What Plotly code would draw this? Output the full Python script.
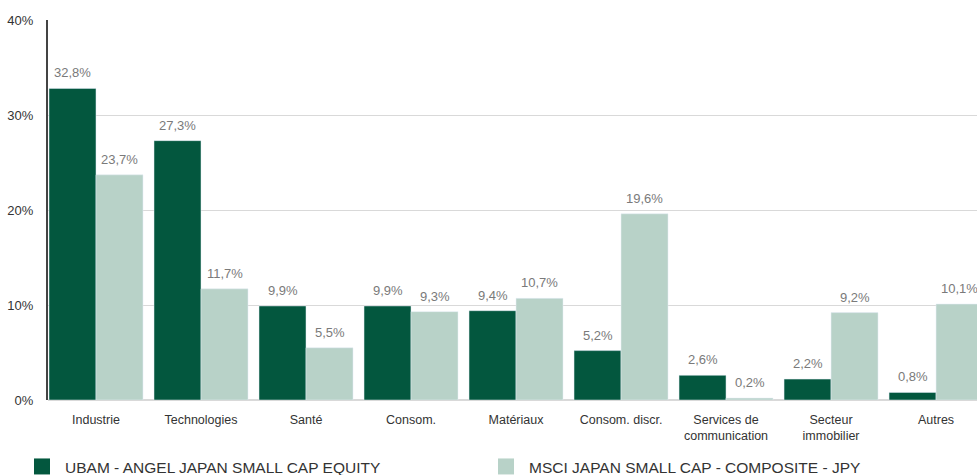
import plotly.graph_objects as go

categories = ["Industrie", "Technologies", "Santé", "Consom.", "Matériaux",
              "Consom. discr.", "Services de<br>communication", "Secteur<br>immobilier", "Autres"]
fund_name = "UBAM - ANGEL JAPAN SMALL CAP EQUITY"
bench_name = "MSCI JAPAN SMALL CAP - COMPOSITE - JPY"
fund_values = [32.8, 27.3, 9.9, 9.9, 9.4, 5.2, 2.6, 2.2, 0.8]
bench_values = [23.7, 11.7, 5.5, 9.3, 10.7, 19.6, 0.2, 9.2, 10.1]
y_ticks = [0, 10, 20, 30, 40]
y_tick_text = ["0%", "10%", "20%", "30%", "40%"]

dark = "#03573E"
light = "#B8D2C8"
font = "Liberation Sans"

fig = go.Figure()
fig.add_trace(go.Bar(x=categories, y=fund_values, name=fund_name, marker_color=dark,
                     showlegend=False))
fig.add_trace(go.Bar(x=categories, y=bench_values, name=bench_name, marker_color=light,
                     showlegend=False))
# legend entries
for nm, col in [(fund_name, dark), (bench_name, light)]:
    fig.add_trace(go.Scatter(x=[None], y=[None], mode="markers", name=nm,
                             marker=dict(symbol="square", size=16, color=col)))

# value labels above bars
annotations = []
for vals, shift in [(fund_values, -23.5), (bench_values, 23.5)]:
    for c, v in zip(categories, vals):
        annotations.append(dict(x=c, y=v, xref="x", yref="y", text=f"{v:.1f}%".replace(".", ","),
                                showarrow=False, xshift=shift, yshift=6, yanchor="bottom",
                                font=dict(color="#7a7a7a", size=13, family=font)))

fig.update_layout(
    width=977, height=475,
    margin=dict(l=48, r=0, t=20, b=75, autoexpand=False),
    paper_bgcolor="white", plot_bgcolor="white",
    barmode="group", bargap=0.105, bargroupgap=0,
    separators=",.",
    font=dict(family=font, color="#333333", size=13),
    showlegend=True,
    annotations=annotations,
    legend=dict(orientation="h", x=-0.0312, xanchor="left", y=-0.176, yanchor="middle",
                font=dict(size=15.5, color="#333333", family=font),
                entrywidth=413, entrywidthmode="pixels", traceorder="normal",
                itemwidth=36,
                bgcolor="rgba(0,0,0,0)"),
)
fig.update_xaxes(range=[-0.457, 8.39], showgrid=False, showline=False, ticks="",
                 automargin=False, ticklabelstandoff=10,
                 tickfont=dict(size=12.5, color="#333333", family=font), fixedrange=True)
fig.update_yaxes(range=[0, 40], tickvals=y_ticks, ticktext=y_tick_text, showgrid=True,
                 gridcolor="#d9d9d9", gridwidth=1, zeroline=True, zerolinecolor="#d9d9d9",
                 zerolinewidth=2, automargin=False,
                 showline=True, linecolor="#444444", linewidth=2,
                 tickfont=dict(size=13, color="#333333", family=font), ticklabelstandoff=10)

fig.write_html("out.html")
